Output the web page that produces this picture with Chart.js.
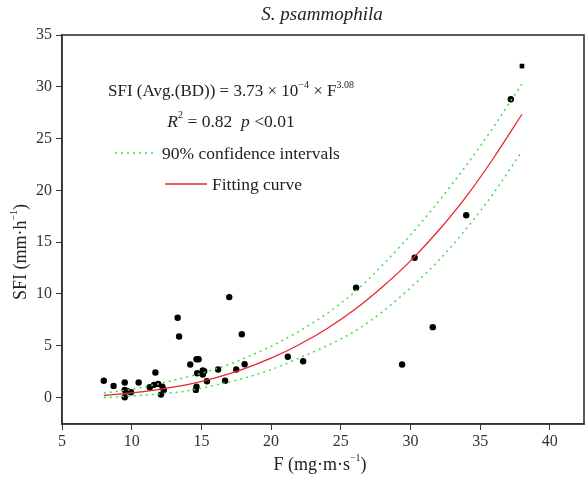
<!DOCTYPE html>
<html>
<head>
<meta charset="utf-8">
<script src="https://cdn.jsdelivr.net/npm/chart.js@4"></script>
<style>
  body { margin: 0; background: #fff; }
  #wrap { width: 588px; height: 481px; }
</style>
</head>
<body>
<div id="wrap"><canvas id="sfiChart" width="588" height="481"></canvas></div>
<script>
// measured points (F, SFI)
const fX = [8.0, 8.7, 9.5, 9.5, 9.7, 9.95, 9.5, 10.5, 11.3, 11.6, 11.7, 11.9, 12.2, 12.1, 12.3,
  13.3, 13.4, 14.2, 14.65, 14.8, 14.7, 14.65, 14.6, 15.1, 15.2, 15.1, 15.4, 16.2, 16.7, 17.0,
  17.5, 17.9, 18.1, 21.2, 22.3, 26.1, 29.4, 30.3, 31.6, 34.0, 37.2];
const sfiY = [1.62, 1.13, 1.45, 0.74, 0.61, 0.51, 0.03, 1.45, 1.0, 1.23, 2.42, 1.32, 1.06, 0.29, 0.74,
  7.71, 5.9, 3.19, 3.7, 3.7, 2.35, 1.06, 0.74, 2.61, 2.54, 2.22, 1.58, 2.71, 1.62, 9.7,
  2.71, 6.12, 3.22, 3.94, 3.51, 10.6, 3.19, 13.5, 6.8, 17.6, 28.8];
// the one square marker
const sqX = [38.0];
const sqY = [32.0];

// fitted curve and 90% band
const fitX = [8, 10, 12, 14, 16, 18, 20, 22, 24, 26, 28, 30, 32, 34, 36, 38];
const fitY = [0.2, 0.45, 0.8, 1.25, 1.9, 2.75, 3.8, 5.1, 6.65, 8.5, 10.7, 13.2, 16.1, 19.4, 23.2, 27.35];
const ciUpper = [0.45, 0.8, 1.35, 2.0, 2.75, 3.75, 4.95, 6.4, 8.1, 10.2, 12.8, 15.7, 18.9, 22.4, 26.2, 30.3];
const ciLower = [0.0, 0.15, 0.35, 0.65, 1.2, 1.85, 2.7, 3.8, 5.0, 6.4, 8.3, 10.6, 13.2, 16.3, 19.8, 23.8];

const xTicks = [5, 10, 15, 20, 25, 30, 35, 40];
const yTicks = [0, 5, 10, 15, 20, 25, 30, 35];

const SERIF = "'Liberation Serif', 'Times New Roman', serif";
const GREEN = "#44dd44";
const RED = "#e8262e";

const pts = (xs, ys) => xs.map((x, i) => ({ x: x, y: ys[i] }));

// text with superscripts: parts = [[text, isSup, italic]]
function drawParts(ctx, parts, cx, y, size) {
  const fontFor = (p) => (p[2] ? "italic " : "") + (p[1] ? Math.round(size * 0.58) : size) + "px " + SERIF;
  let w = 0;
  parts.forEach(p => { ctx.font = fontFor(p); w += ctx.measureText(p[0]).width; });
  let x = cx - w / 2;
  parts.forEach(p => {
    ctx.font = fontFor(p);
    ctx.fillText(p[0], x, p[1] ? y - size * 0.38 : y);
    x += ctx.measureText(p[0]).width;
  });
}

const decor = {
  id: "decor",
  afterDraw(chart) {
    const ctx = chart.ctx;
    const a = chart.chartArea;
    ctx.save();
    // frame
    ctx.strokeStyle = "#333";
    ctx.lineWidth = 1.6;
    ctx.strokeRect(a.left, a.top, a.right - a.left, a.bottom - a.top);

    ctx.fillStyle = "#222";
    ctx.textBaseline = "middle";
    ctx.textAlign = "left";

    // title
    ctx.font = "italic 19px " + SERIF;
    ctx.textAlign = "center";
    ctx.fillText("S. psammophila", 322, 15);
    ctx.textAlign = "left";

    // equation and stats
    drawParts(ctx, [["SFI (Avg.(BD)) = 3.73 \u00d7 10", false], ["\u22124", true], [" \u00d7 F", false], ["3.08", true]], 231, 92, 17);
    drawParts(ctx, [["R", false, true], ["2", true], [" = 0.82  ", false], ["p", false, true], [" <0.01", false]], 231, 122, 17.5);

    // legend rows
    ctx.strokeStyle = GREEN;
    ctx.lineWidth = 1.5;
    ctx.setLineDash([2, 4]);
    ctx.beginPath(); ctx.moveTo(115, 153); ctx.lineTo(156, 153); ctx.stroke();
    ctx.setLineDash([]);
    ctx.strokeStyle = RED;
    ctx.lineWidth = 1.3;
    ctx.beginPath(); ctx.moveTo(165, 184); ctx.lineTo(207, 184); ctx.stroke();
    ctx.font = "17.5px " + SERIF;
    ctx.fillText("90% confidence intervals", 162, 154);
    ctx.fillText("Fitting curve", 212, 185);

    // axis titles
    drawParts(ctx, [["F (mg\u00b7m\u00b7s", false], ["\u22121", true], [")", false]], 320, 465, 18);
    ctx.translate(21, 252);
    ctx.rotate(-Math.PI / 2);
    drawParts(ctx, [["SFI (mm\u00b7h", false], ["\u22121", true], [")", false]], 0, 0, 18);
    ctx.restore();
  }
};

new Chart(document.getElementById("sfiChart"), {
  type: "scatter",
  data: {
    datasets: [
      {
        type: "line", data: pts(fitX, ciUpper), borderColor: GREEN, borderWidth: 1.5,
        borderDash: [2, 4], pointRadius: 0, cubicInterpolationMode: "monotone", fill: false
      },
      {
        type: "line", data: pts(fitX, ciLower), borderColor: GREEN, borderWidth: 1.5,
        borderDash: [2, 4], pointRadius: 0, cubicInterpolationMode: "monotone", fill: false
      },
      {
        type: "line", data: pts(fitX, fitY), borderColor: RED, borderWidth: 1.3,
        pointRadius: 0, cubicInterpolationMode: "monotone", fill: false
      },
      {
        data: pts(fX, sfiY), backgroundColor: "#000", borderColor: "#000",
        pointRadius: 3.2, borderWidth: 0
      },
      {
        data: pts(sqX, sqY), pointStyle: "rect", backgroundColor: "#000", borderColor: "#000",
        pointRadius: 3.3, borderWidth: 0
      }
    ]
  },
  options: {
    responsive: false,
    animation: false,
    devicePixelRatio: 1,
    layout: { padding: { top: 35, right: 3, left: 0, bottom: 0 } },
    plugins: { legend: { display: false }, tooltip: { enabled: false } },
    scales: {
      x: {
        type: "linear", min: 5, max: 42.45,
        afterBuildTicks: s => { s.ticks = xTicks.map(v => ({ value: v })); },
        afterFit: s => { s.height = 57; },
        grid: { drawOnChartArea: false, drawTicks: true, tickLength: 6, color: "#333" },
        border: { color: "#333", width: 1.6 },
        ticks: { color: "#333", font: { family: SERIF, size: 16 }, padding: 2, maxRotation: 0 }
      },
      y: {
        type: "linear", min: -2.55, max: 35,
        afterBuildTicks: s => { s.ticks = yTicks.map(v => ({ value: v })); },
        afterFit: s => { s.width = 62; },
        grid: { drawOnChartArea: false, drawTicks: true, tickLength: 6, color: "#333" },
        border: { color: "#333", width: 1.6 },
        ticks: { color: "#333", font: { family: SERIF, size: 16 }, padding: 4 }
      }
    }
  },
  plugins: [decor]
});
</script>
</body>
</html>
